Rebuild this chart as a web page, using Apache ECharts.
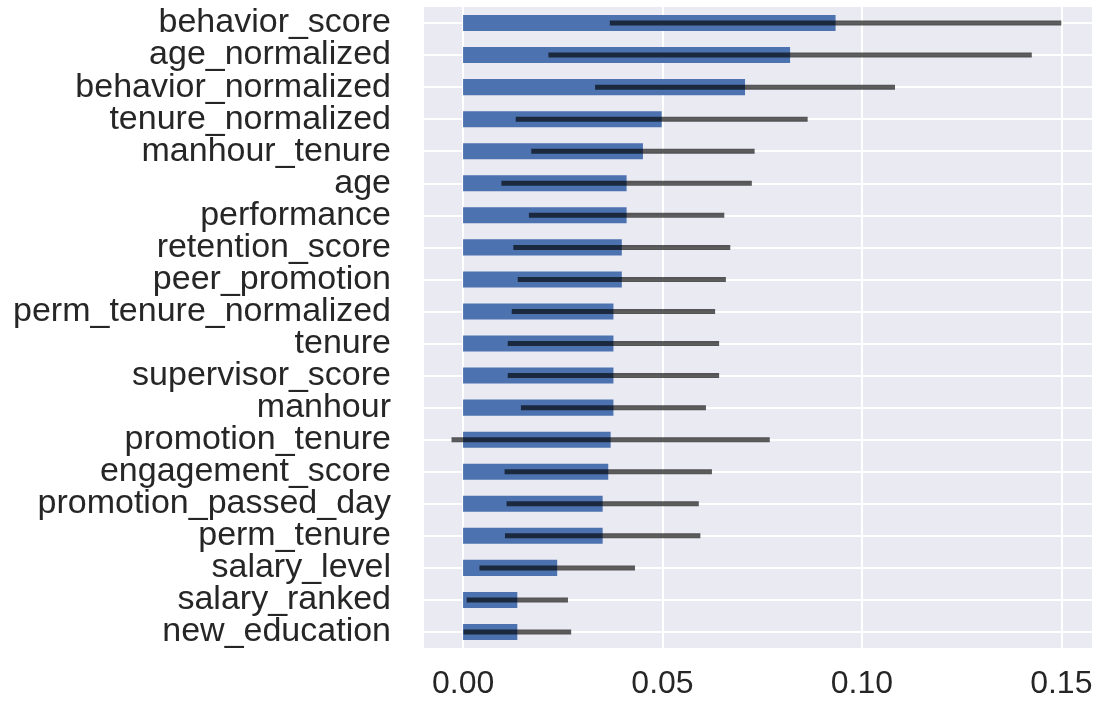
<!DOCTYPE html>
<html>
<head>
<meta charset="utf-8">
<script src="https://cdn.jsdelivr.net/npm/echarts@6/dist/echarts.min.js"></script>
<style>
html,body{margin:0;padding:0;background:#fff;}
#chart{width:1109px;height:703px;}
</style>
</head>
<body>
<div id="chart"></div>
<script>
// Categories, top to bottom
const categories = [
  'behavior_score','age_normalized','behavior_normalized','tenure_normalized',
  'manhour_tenure','age','performance','retention_score','peer_promotion',
  'perm_tenure_normalized','tenure','supervisor_score','manhour','promotion_tenure',
  'engagement_score','promotion_passed_day','perm_tenure','salary_level',
  'salary_ranked','new_education'
];
// Mean importance (bar length)
const importance = [
  0.0934,0.0820,0.0707,0.0498,0.0451,0.0410,0.0410,0.0398,0.0398,0.0377,
  0.0377,0.0377,0.0377,0.0370,0.0364,0.0350,0.0350,0.0236,0.0136,0.0136
];
// Standard deviation (error bar half-width)
const stdDev = [
  0.0566,0.0606,0.0376,0.0366,0.0280,0.0314,0.0245,0.0272,0.0261,0.0255,
  0.0265,0.0265,0.0232,0.0399,0.0260,0.0241,0.0245,0.0195,0.0127,0.0135
];
const xTicks = [0, 0.05, 0.10, 0.15];

const errData = categories.map((c, i) => [importance[i] - stdDev[i], importance[i] + stdDev[i], i]);

const chart = echarts.init(document.getElementById('chart'), null, {renderer: 'canvas'});
chart.setOption({
  animation: false,
  backgroundColor: '#ffffff',
  grid: {
    left: 424, right: 17, top: 7, bottom: 55,
    show: true, backgroundColor: '#EAEAF2', borderWidth: 0,
    containLabel: false
  },
  xAxis: {
    type: 'value',
    min: -0.0098, max: 0.1577,
    axisLine: {show: false},
    axisTick: {show: false, customValues: xTicks},
    axisLabel: {
      customValues: xTicks,
      formatter: v => v.toFixed(2),
      fontFamily: 'Liberation Sans, Arial, sans-serif',
      fontSize: 32, color: '#262626', margin: 20
    },
    splitLine: {show: true, lineStyle: {color: '#ffffff', width: 2}}
  },
  yAxis: {
    type: 'category',
    data: categories,
    inverse: true,
    axisLine: {show: false},
    axisTick: {show: false, alignWithLabel: true},
    axisLabel: {
      interval: 0,
      hideOverlap: false,
      fontFamily: 'Liberation Sans, Arial, sans-serif',
      fontSize: 34, color: '#262626', margin: 33
    },
    splitLine: {show: true, interval: 0, alignWithLabel: true, lineStyle: {color: '#ffffff', width: 2}}
  },
  series: [
    {
      type: 'bar',
      data: importance,
      barWidth: '50%',
      itemStyle: {color: '#4C72B0'},
      z: 2
    },
    {
      type: 'custom',
      data: errData,
      encode: {x: [0, 1], y: 2},
      z: 3,
      renderItem: function (params, api) {
        const p1 = api.coord([api.value(0), api.value(2)]);
        const p2 = api.coord([api.value(1), api.value(2)]);
        return {
          type: 'line',
          shape: {x1: p1[0], y1: p1[1], x2: p2[0], y2: p2[1]},
          style: {stroke: 'rgba(0,0,0,0.64)', lineWidth: 5}
        };
      }
    }
  ]
});
</script>
</body>
</html>
